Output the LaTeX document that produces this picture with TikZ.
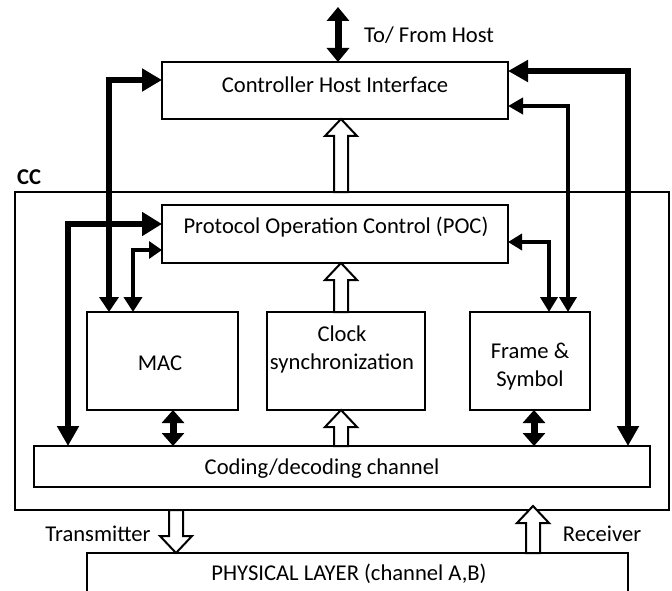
\documentclass[tikz,border=0pt]{standalone}
\usepackage{fontspec}
\setmainfont{Carlito}
\usetikzlibrary{arrows.meta,calc}
\newcommand\hollowarr[3]{%
  \draw[hollow] let \p1=#1, \p2=#2 in
   (\x1-7pt,\y1) -- (\x1-7pt,{\y2-(#3)*17pt}) -- (\x1-16pt,{\y2-(#3)*17pt}) -- (\x1,\y2)
   -- (\x1+16pt,{\y2-(#3)*17pt}) -- (\x1+7pt,{\y2-(#3)*17pt}) -- (\x1+7pt,\y1) -- cycle;}
\begin{document}
\begin{tikzpicture}[x=1pt,y=-1pt,
  box/.style={draw=black,line width=2.4pt,outer sep=0pt,inner sep=0pt,anchor=north west},
  lbl/.style={font=\fontsize{22.6}{27}\selectfont,inner sep=0pt,anchor=base},
  conn/.style={draw=black,line join=miter},
  hollow/.style={draw=black,fill=white,line width=2pt,line join=miter},
  dbl/.style={conn,line width=7pt,arrows={Triangle[length=13pt,width=22pt]-Triangle[length=13pt,width=22pt]}}
]
\useasboundingbox (0,0) rectangle (672,591);
\clip (0,0) rectangle (672,591);

% boxes
\node[box,minimum width=346pt,minimum height=57pt] (chi) at (162,62) {};
\node[box,minimum width=654pt,minimum height=318pt] (cc) at (15,192) {};
\node[box,minimum width=346pt,minimum height=58pt] (poc) at (162,205) {};
\node[box,minimum width=151pt,minimum height=98pt] (mac) at (87,312) {};
\node[box,minimum width=158pt,minimum height=98pt] (clk) at (267,312) {};
\node[box,minimum width=120pt,minimum height=98pt] (frm) at (470,312) {};
\node[box,minimum width=616pt,minimum height=41pt] (cod) at (34,446) {};
\node[box,minimum width=541pt,minimum height=60pt] (phy) at (87,553) {};

% texts
\node[lbl,anchor=base west] (thost) at (364,43) {To/ From Host};
\node[lbl] (tchi) at (335,93) {Controller Host Interface};
\node[lbl,anchor=base west,font=\fontsize{22.6}{27}\selectfont\bfseries] (tcc) at (17,184) {CC};
\node[lbl] (tpoc) at (336,233) {Protocol Operation Control (POC)};
\node[lbl] (tmac) at (160,370) {MAC};
\node[lbl] (tclk1) at (342,341) {Clock};
\node[lbl] (tclk2) at (342,369) {synchronization};
\node[lbl] (tfrm1) at (530,358) {Frame \&};
\node[lbl] (tfrm2) at (530,386) {Symbol};
\node[lbl] (tcod) at (322,474) {Coding/decoding channel};
\node[lbl] (ttx) at (98,541) {Transmitter};
\node[lbl] (trx) at (602,541) {Receiver};
\node[lbl] (tphy) at (349,580) {PHYSICAL LAYER (channel A,B)};

% positions of connector runs
\coordinate (xA) at (109,0); \coordinate (yA) at (0,80);
\coordinate (xB) at (68,0);  \coordinate (yB) at (0,224);
\coordinate (xC) at (133,0); \coordinate (yC) at (0,250);
\coordinate (xD) at (628,0); \coordinate (yD) at (0,71);
\coordinate (xE) at (568,0); \coordinate (yE) at (0,106);
\coordinate (xF) at (549,0); \coordinate (yF) at (0,242);
\coordinate (xM) at (173,0); \coordinate (xS) at (534,0);
\coordinate (xH) at (341,0);
\coordinate (xT) at (176,0); \coordinate (xR) at (533,0);
\coordinate (hostend) at (338,7);

% solid connectors
\draw[conn,line width=6.5pt,arrows={Triangle[length=15pt,width=19pt]-Triangle[length=20pt,width=22pt]}]
  (xA |- mac.north) -- (xA |- yA) -- (chi.west |- yA);
\draw[conn,line width=6pt,arrows={Triangle[length=20pt,width=21pt]-Triangle[length=20pt,width=23pt]}]
  (xB |- cod.north) -- (xB |- yB) -- (poc.west |- yB);
\draw[conn,line width=4.5pt,arrows={Triangle[length=15pt,width=18pt]-Triangle[length=13pt,width=17pt]}]
  (xC |- mac.north) -- (xC |- yC) -- (poc.west |- yC);
\draw[conn,line width=6.5pt,arrows={Triangle[length=20pt,width=21pt]-Triangle[length=20pt,width=21pt]}]
  (xD |- cod.north) -- (xD |- yD) -- (chi.east |- yD);
\draw[conn,line width=4.5pt,arrows={Triangle[length=15pt,width=17pt]-Triangle[length=15pt,width=16pt]}]
  (xE |- frm.north) -- (xE |- yE) -- (chi.east |- yE);
\draw[conn,line width=4pt,arrows={Triangle[length=15pt,width=17pt]-Triangle[length=14pt,width=16pt]}]
  (xF |- frm.north) -- (xF |- yF) -- (poc.east |- yF);
\draw[dbl] (xM |- mac.south) -- (xM |- cod.north);
\draw[dbl] (xS |- frm.south) -- (xS |- cod.north);
\draw[conn,line width=7pt,arrows={Triangle[length=14pt,width=22pt]-Triangle[length=14pt,width=22pt]}]
  (hostend) -- (hostend |- chi.north);

% hollow arrows
\hollowarr{(xH |- cc.north)}{(xH |- chi.south)}{1}
\hollowarr{(xH |- clk.north)}{(xH |- poc.south)}{1}
\hollowarr{(xH |- cod.north)}{(xH |- clk.south)}{1}
\hollowarr{(xT |- cc.south)}{(xT |- phy.north)}{-1}
\hollowarr{(xR |- phy.north)}{($(xR |- cc.south)+(0,-4)$)}{1}
\end{tikzpicture}
\end{document}
